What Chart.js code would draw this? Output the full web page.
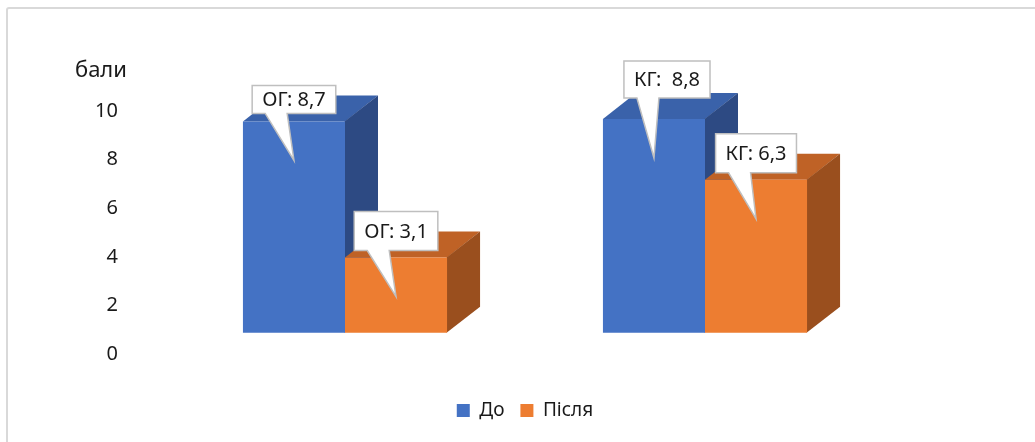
<!DOCTYPE html>
<html>
<head>
<meta charset="utf-8">
<script src="https://cdn.jsdelivr.net/npm/chart.js@4.4.1/dist/chart.umd.min.js"></script>
<style>
    html, body { margin: 0; padding: 0; background: #fff; overflow: hidden; }
    #wrap { position: relative; width: 1035px; height: 442px; }
    #frame { position: absolute; left: 6px; top: 7px; width: 1100px; height: 500px;
             border: 2px solid #d9d9d9; border-radius: 3px; box-sizing: border-box; }
    canvas { position: absolute; left: 0; top: 0; }
</style>
</head>
<body>
<div id="wrap">
    <div id="frame"></div>
    <canvas id="myChart" width="1035" height="442"></canvas>
</div>
<script>
// data
const groups = ['ОГ', 'КГ'];
const seriesNames = ['До', 'Після'];
const beforeValues = [8.7, 8.8];
const afterValues = [3.1, 6.3];
const beforePrefix = ['ОГ: ', 'КГ:  '];
const afterPrefix = ['ОГ: ', 'КГ: '];
const yMin = 0;
const yMax = 10;
const yStep = 2;
const yTitle = 'бали';

// look
const FONT = "'Noto Sans', sans-serif";
const TEXT = '#1a1a1a';
const depthX = 33;
const depthY = -26;
const floorShift = 0.87;   // 3d floor sits above the back-wall zero

// callout boxes: [dataset][group]
const calloutH = [[28, 37], [39, 39]];
const calloutGap = [[8, 21], [7, 7]];
const calloutShift = [[0, 13], [0, 0]];

const fmt = v => String(v).replace('.', ',');

const bars3d = {
    id: 'bars3d',
    beforeDatasetsDraw(chart) {
        const ctx = chart.ctx;
        ctx.save();
        chart.data.datasets.forEach((ds, di) => {
            chart.getDatasetMeta(di).data.forEach(bar => {
                const { x, y, base, width } = bar.getProps(['x', 'y', 'base', 'width'], true);
                const l = x - width / 2;
                const r = x + width / 2;

                ctx.fillStyle = ds.topColor;
                ctx.beginPath();
                ctx.moveTo(l, y);
                ctx.lineTo(l + depthX, y + depthY);
                ctx.lineTo(r + depthX, y + depthY);
                ctx.lineTo(r, y);
                ctx.closePath();
                ctx.fill();

                ctx.fillStyle = ds.sideColor;
                ctx.beginPath();
                ctx.moveTo(r - 0.5, y);
                ctx.lineTo(r + depthX, y + depthY);
                ctx.lineTo(r + depthX, base + depthY);
                ctx.lineTo(r - 0.5, base);
                ctx.closePath();
                ctx.fill();
            });
        });
        ctx.restore();
    },
    afterDatasetsDraw(chart) {
        const ctx = chart.ctx;
        ctx.save();
        ctx.font = '20px ' + FONT;
        ctx.textAlign = 'center';
        ctx.textBaseline = 'middle';
        chart.data.datasets.forEach((ds, di) => {
            chart.getDatasetMeta(di).data.forEach((bar, i) => {
                const { x, y } = bar.getProps(['x', 'y'], true);
                const text = ds.prefixes[i] + fmt(ds.data[i]);
                const w = ctx.measureText(text).width + 20;
                const h = calloutH[di][i];
                const cx = x + calloutShift[di][i];
                const left = cx - w / 2;
                const bottom = y - calloutGap[di][i];
                const top = bottom - h;
                const tipY = y + 39;

                ctx.beginPath();
                ctx.moveTo(left, top);
                ctx.lineTo(left + w, top);
                ctx.lineTo(left + w, bottom);
                ctx.lineTo(left + 35, bottom);
                ctx.lineTo(x, tipY);
                ctx.lineTo(left + 13, bottom);
                ctx.lineTo(left, bottom);
                ctx.closePath();
                ctx.fillStyle = '#ffffff';
                ctx.fill();
                ctx.lineWidth = 1.5;
                ctx.strokeStyle = '#bfbfbf';
                ctx.stroke();

                ctx.fillStyle = TEXT;
                ctx.fillText(text, cx, (top + bottom) / 2 + 1);
            });
        });
        ctx.restore();
    },
    afterDraw(chart) {
        const ctx = chart.ctx;
        const yScale = chart.scales.y;
        ctx.save();
        ctx.font = '22px ' + FONT;
        ctx.fillStyle = TEXT;
        ctx.textBaseline = 'alphabetic';
        ctx.textAlign = 'left';
        ctx.fillText(yTitle, yScale.right - 90, yScale.top - 34);
        ctx.restore();
    }
};

const ctx = document.getElementById('myChart').getContext('2d');
const chart = new Chart(ctx, {
    type: 'bar',
    data: {
        labels: groups,
        datasets: [{
            label: seriesNames[0],
            data: beforeValues,
            prefixes: beforePrefix,
            backgroundColor: '#4472c4',
            topColor: '#3a62aa',
            sideColor: '#2d4a83',
            yAxisID: 'yb',
            clip: false
        }, {
            label: seriesNames[1],
            data: afterValues,
            prefixes: afterPrefix,
            backgroundColor: '#ed7d31',
            topColor: '#bf6226',
            sideColor: '#9a4f1e',
            yAxisID: 'yb',
            clip: false
        }]
    },
    options: {
        responsive: false,
        animation: false,
        layout: { padding: { left: 0, right: 150, top: 111, bottom: 12 } },
        categoryPercentage: 0.567,
        barPercentage: 1,
        borderWidth: 0,
        scales: {
            x: {
                grid: { display: false, drawTicks: false },
                border: { display: false },
                ticks: { display: false },
                afterFit: s => { s.height = 31; }
            },
            y: {
                position: 'left',
                min: yMin,
                max: yMax,
                grid: { display: false, drawTicks: false },
                border: { display: false },
                ticks: {
                    stepSize: yStep,
                    padding: 47,
                    color: TEXT,
                    font: { family: FONT, size: 20 }
                },
                afterFit: s => { s.width = 165; }
            },
            yb: {
                display: false,
                min: yMin - floorShift,
                max: yMax - floorShift
            }
        },
        plugins: {
            legend: {
                position: 'bottom',
                fullSize: false,
                labels: {
                    boxWidth: 13,
                    boxHeight: 13,
                    padding: 16,
                    color: TEXT,
                    font: { family: FONT, size: 19 }
                }
            },
            tooltip: { enabled: false }
        }
    },
    plugins: [bars3d]
});
</script>
</body>
</html>
